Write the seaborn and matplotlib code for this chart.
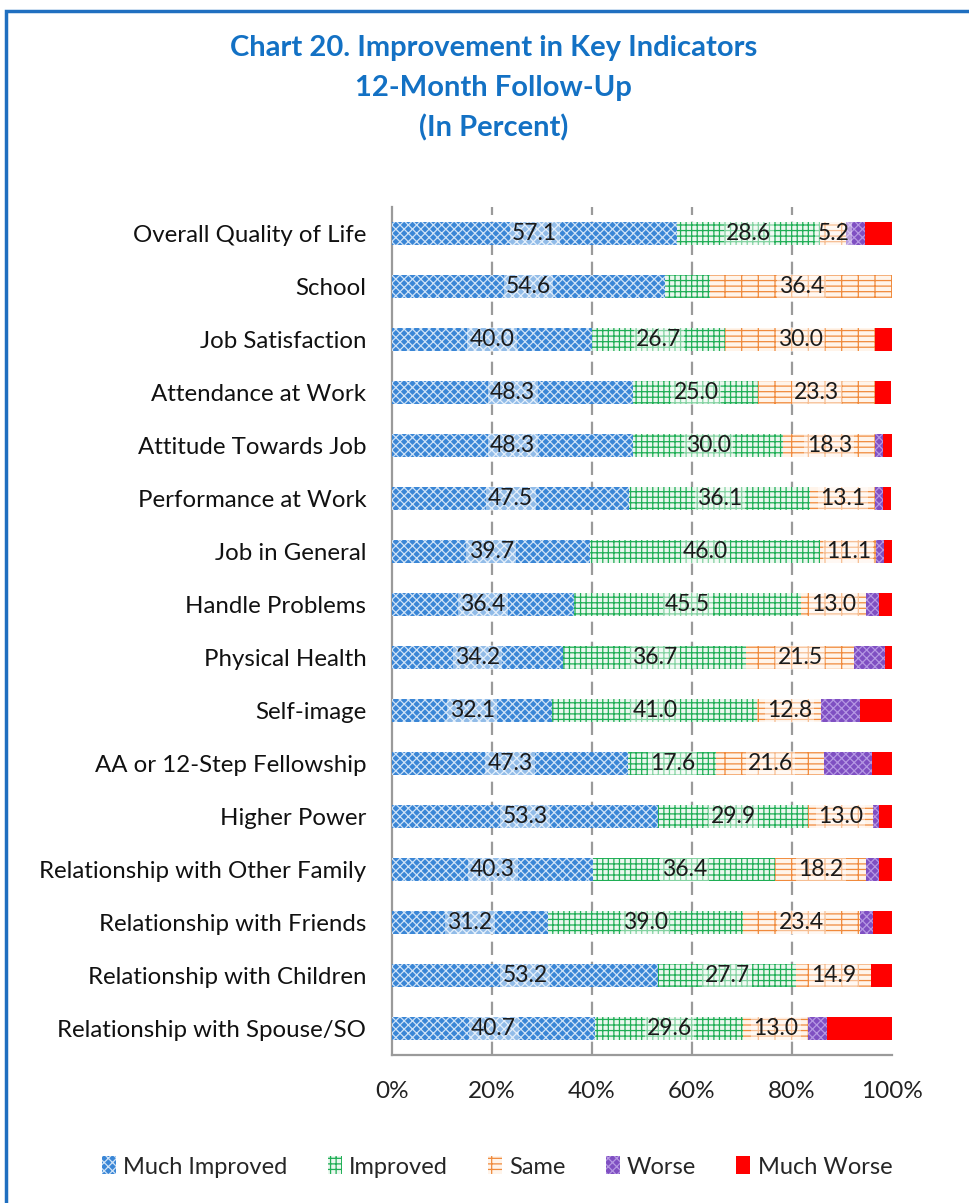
import matplotlib
matplotlib.use("Agg")
import matplotlib.pyplot as plt
import seaborn as sns
import numpy as np
import pandas as pd
from matplotlib.patches import Rectangle, Patch

categories = [
    "Overall Quality of Life", "School", "Job Satisfaction", "Attendance at Work",
    "Attitude Towards Job", "Performance at Work", "Job in General", "Handle Problems",
    "Physical Health", "Self-image", "AA or 12-Step Fellowship", "Higher Power",
    "Relationship with Other Family", "Relationship with Friends",
    "Relationship with Children", "Relationship with Spouse/SO",
]
much_improved = [57.1, 54.6, 40.0, 48.3, 48.3, 47.5, 39.7, 36.4, 34.2, 32.1, 47.3, 53.3, 40.3, 31.2, 53.2, 40.7]
improved      = [28.6,  9.1, 26.7, 25.0, 30.0, 36.1, 46.0, 45.5, 36.7, 41.0, 17.6, 29.9, 36.4, 39.0, 27.7, 29.6]
same          = [ 5.2, 36.4, 30.0, 23.3, 18.3, 13.1, 11.1, 13.0, 21.5, 12.8, 21.6, 13.0, 18.2, 23.4, 14.9, 13.0]
worse         = [ 3.8,  0.0,  0.0,  0.0,  1.7,  1.6,  1.6,  2.6,  6.3,  7.7,  9.5,  1.3,  2.6,  2.6,  0.0,  3.7]
much_worse    = [ 5.3,  0.0,  3.3,  3.3,  1.7,  1.6,  1.6,  2.6,  1.3,  6.4,  4.1,  2.6,  2.6,  3.9,  4.3, 13.0]
series_names = ["Much Improved", "Improved", "Same", "Worse", "Much Worse"]
labeled_series = [0, 1, 2]
hidden_labels = [("Improved", "School")]
xticks = [0, 20, 40, 60, 80, 100]
xtick_labels = ["0%", "20%", "40%", "60%", "80%", "100%"]
title_lines = ["Chart 20. Improvement in Key Indicators", "12-Month Follow-Up", "(In Percent)"]

sns.set_theme(style="white")
plt.rcParams["font.family"] = ["Lato", "DejaVu Sans"]
plt.rcParams["hatch.linewidth"] = 0.9

styles = [
    dict(face="#3a86d6", hatch="xxxx", hc="#cfe3f7"),
    dict(face="#eaf7ee", hatch="+++", hc="#1fae55"),
    dict(face="#fff4ea", hatch="---|", hc="#f08a3c"),
    dict(face="#7f4fc2", hatch="xxxx", hc="#b597e3"),
    dict(face="#ff0000", hatch="", hc="#ff0000"),
]

fig = plt.figure(figsize=(9.69, 12.03), dpi=100)
fig.patch.set_facecolor("white")
ax = fig.add_axes([0.4045, 0.123, 0.516, 0.705])

vals = np.array([much_improved, improved, same, worse, much_worse])
cum = np.cumsum(vals, axis=0)

for i in reversed(range(len(series_names))):
    df = pd.DataFrame({"cat": categories, "val": cum[i]})
    st = styles[i]
    sns.barplot(data=df, x="val", y="cat", orient="h", color=st["face"],
                saturation=1, width=0.43, errorbar=None, ax=ax, zorder=3)
    for p in ax.containers[-1]:
        p.set_facecolor(st["face"])
        p.set_edgecolor(st["hc"])
        p.set_hatch(st["hatch"])
        p.set_linewidth(0)

for i in labeled_series:
    for j, cat in enumerate(categories):
        v = vals[i][j]
        if (series_names[i], cat) in hidden_labels:
            continue
        ax.text(cum[i][j] - v / 2, j, f"{v:.1f}", ha="center", va="center",
                fontsize=16.5, color="#1a1a1a", zorder=5,
                bbox=dict(boxstyle="square,pad=0.1", fc="white", alpha=0.45, ec="none"))

ax.set_xlim(0, 100)
ax.set_ylim(len(categories) - 0.5, -0.5)
ax.set_xticks(xticks)
ax.set_xticklabels(xtick_labels, fontsize=17.5, color="#222222")
ax.tick_params(axis="x", pad=19, length=0)
ax.tick_params(axis="y", pad=18.5, length=0, labelsize=17.3, labelcolor="#111111")
ax.set_xlabel("")
ax.set_ylabel("")
for x in xticks[1:-1]:
    ax.axvline(x, color="#9a9a9a", lw=1.6, ls=(0, (6, 3)), zorder=1)
for s in ["top", "right"]:
    ax.spines[s].set_visible(False)
for s in ["left", "bottom"]:
    ax.spines[s].set_color("#9a9a9a")
    ax.spines[s].set_linewidth(1.6)

for k, line in enumerate(title_lines):
    fig.text(0.509, 1 - (48 + 40 * k) / 1203, line, ha="center", va="center",
             fontsize=21, fontweight="bold", color="#1371c4")

handles = [Patch(facecolor=st["face"], edgecolor=st["hc"], hatch=st["hatch"], lw=0)
           for st in styles]
fig.legend(handles, series_names, loc="center", bbox_to_anchor=(0.513, 1 - 1167 / 1203),
           ncol=5, frameon=False, fontsize=17, handlelength=0.6, handleheight=0.8,
           handletextpad=0.3, columnspacing=1.7)

fig.patches.append(Rectangle((0.0065, -0.05), 1.2, 0.05 + (1 - 11 / 1203),
                             transform=fig.transFigure, fill=False,
                             ec="#1f6fc0", lw=2.5, zorder=10))

fig.savefig("out.png", dpi=100, facecolor="white")
